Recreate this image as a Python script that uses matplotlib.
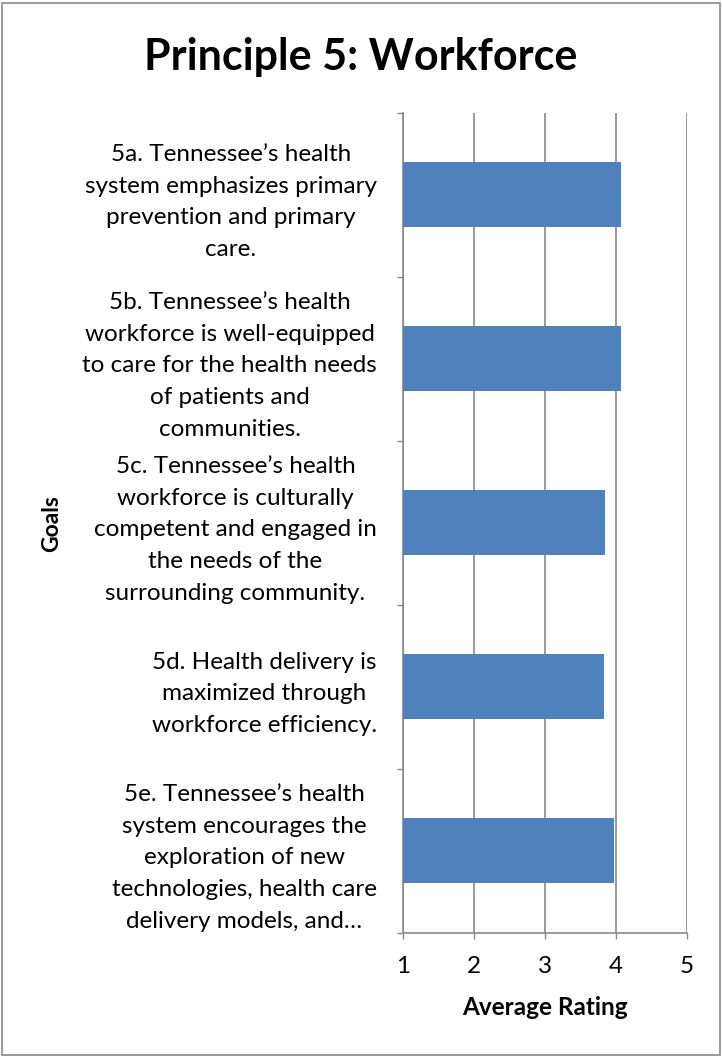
import numpy as np
import matplotlib.pyplot as plt
from matplotlib.patches import Rectangle
from matplotlib.ticker import FixedLocator

plt.rcParams['font.family'] = ['Lato', 'DejaVu Sans']

goals = [
    "5a. Tennessee\u2019s health\nsystem emphasizes primary\nprevention and primary\ncare.",
    "5b. Tennessee\u2019s health\nworkforce is well-equipped\nto care for the health needs\nof patients and\ncommunities.",
    "5c. Tennessee\u2019s health\nworkforce is culturally\ncompetent and engaged in\nthe needs of the\nsurrounding community.",
    "5d. Health delivery is\nmaximized through\nworkforce efficiency.",
    "5e. Tennessee\u2019s health\nsystem encourages the\nexploration of new\ntechnologies, health care\ndelivery models, and\u2026",
]
ratings = [4.07, 4.07, 3.85, 3.83, 3.97]
x_ticks = [1, 2, 3, 4, 5]

grey = '#898989'

fig = plt.figure(figsize=(7.22, 10.57), dpi=100)
fig.patches.append(Rectangle((0.003, 0.002), 0.994, 0.995, transform=fig.transFigure,
                             fill=False, edgecolor=grey, linewidth=1.2))

ax = fig.add_axes([0.5586, 0.1176, 0.3925, 0.7758])

ypos = np.arange(len(goals))
ax.barh(ypos, [r - 1 for r in ratings], left=1, height=0.4, color='#4F81BD', zorder=3)

ax.set_xlim(1, 5)
ax.set_ylim(len(goals) - 0.5, -0.5)

ax.set_xticks(x_ticks)
ax.set_xticklabels([str(t) for t in x_ticks], fontsize=17.5)
ax.set_yticks(ypos)
ax.set_yticklabels(goals, fontsize=17.5, multialignment='center', linespacing=1.62)
ax.yaxis.set_minor_locator(FixedLocator(np.arange(-0.5, len(goals), 1.0)))

ax.tick_params(axis='y', which='major', length=0, pad=19)
ax.tick_params(axis='y', which='minor', length=4.5, width=1, color=grey, direction='out')
ax.tick_params(axis='x', length=4.5, width=1, color=grey, direction='out', pad=12)

for s in ['top', 'right']:
    ax.spines[s].set_visible(False)
for s in ['left', 'bottom']:
    ax.spines[s].set_color(grey)
    ax.spines[s].set_linewidth(1.2)

ax.grid(axis='x', color=grey, linewidth=1.2, zorder=0)
ax.set_axisbelow(True)

ax.set_xlabel('Average Rating', fontsize=17.5, fontweight='bold', labelpad=14)
fig.text(0.072, 0.505, 'Goals', rotation=90, fontsize=16.5, fontweight='bold',
         ha='center', va='center')
fig.text(0.5, 0.946, 'Principle 5: Workforce', fontsize=31, fontweight='bold',
         ha='center', va='center')

fig.savefig('out.png', dpi=100)
